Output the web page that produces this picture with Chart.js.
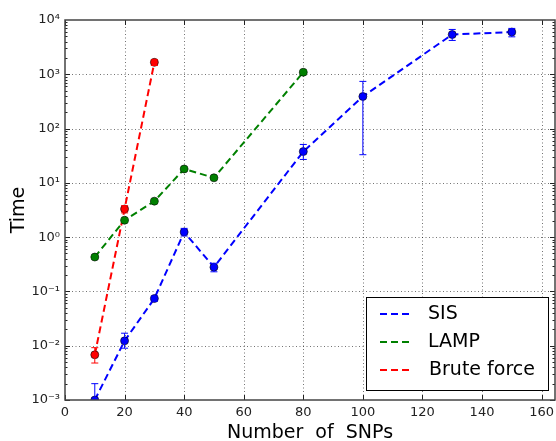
<!DOCTYPE html>
<html>
<head>
<meta charset="utf-8">
<script src="https://cdn.jsdelivr.net/npm/chart.js@4"></script>
<style>
html,body{margin:0;padding:0;background:#fff;}
#wrap{width:556px;height:441px;position:relative;}
</style>
</head>
<body>
<div id="wrap"><canvas id="c" width="556" height="441"></canvas></div>
<script>
// ---- data ----
const seriesNames = ['SIS', 'LAMP', 'Brute force'];
const seriesColors = ['#0000ff', '#008000', '#ff0000'];
const sisX = [10, 20, 30, 40, 50, 80, 100, 130, 150];
const sisY = [0.001, 0.0123, 0.074, 1.24, 0.28, 37.7, 390, 5400, 6000];
const sisLow = [0.0007, 0.009, 0.066, 1.05, 0.23, 27, 33, 4200, 4900];
const sisHigh = [0.002, 0.017, 0.082, 1.45, 0.33, 51, 740, 6700, 7000];
const lampX = [10, 20, 30, 40, 50, 80];
const lampY = [0.43, 2.05, 4.6, 18, 12.4, 1090];
const lampLow = [0.40, 1.9, 4.3, 17, 11.6, 1000];
const lampHigh = [0.46, 2.2, 4.9, 19, 13.2, 1180];
const bruteX = [10, 20, 30];
const bruteY = [0.0068, 3.3, 1660];
const bruteLow = [0.0048, 2.8, 1450];
const bruteHigh = [0.0092, 3.8, 1850];
const xTicks = [0, 20, 40, 60, 80, 100, 120, 140, 160];
const yMajorTicks = [1e-3, 1e-2, 1e-1, 1e0, 1e1, 1e2, 1e3, 1e4];
const yTickLabels = ['10⁻³', '10⁻²', '10⁻¹', '10⁰', '10¹', '10²', '10³', '10⁴'];
const xTitle = 'Number  of  SNPs';
const yTitle = 'Time';

function pts(xs, ys) { return xs.map((x, i) => ({x: x, y: ys[i]})); }
const errLow = [sisLow, lampLow, bruteLow];
const errHigh = [sisHigh, lampHigh, bruteHigh];

const FONT = '"DejaVu Sans", sans-serif';

function mkDataset(i, xs, ys) {
  const col = seriesColors[i];
  return {
    label: seriesNames[i],
    data: pts(xs, ys),
    borderColor: col,
    backgroundColor: col,
    borderWidth: 2,
    borderDash: [7, 4],
    pointRadius: 4,
    pointBorderWidth: 0.6,
    pointBorderColor: '#000',
    pointBackgroundColor: col,
    tension: 0,
    fill: false
  };
}

const frameAndGrid = {
  id: 'frameAndGrid',
  beforeDatasetsDraw(chart) {
    const ctx = chart.ctx, a = chart.chartArea;
    const xs = chart.scales.x, ys = chart.scales.y;
    ctx.save();
    ctx.strokeStyle = 'rgba(0,0,0,0.55)';
    ctx.lineWidth = 1;
    ctx.setLineDash([1, 2.5]);
    xTicks.forEach(v => {
      const px = Math.round(xs.getPixelForValue(v)) + 0.5;
      if (px <= a.left + 1 || px >= a.right - 1) return;
      ctx.beginPath(); ctx.moveTo(px, a.top); ctx.lineTo(px, a.bottom); ctx.stroke();
    });
    yMajorTicks.forEach(v => {
      const py = Math.round(ys.getPixelForValue(v)) + 0.5;
      if (py <= a.top + 1 || py >= a.bottom - 1) return;
      ctx.beginPath(); ctx.moveTo(a.left, py); ctx.lineTo(a.right, py); ctx.stroke();
    });
    ctx.restore();
  },
  afterDatasetsDraw(chart) {
    const ctx = chart.ctx, a = chart.chartArea;
    const xs = chart.scales.x, ys = chart.scales.y;
    ctx.save();
    // error bars
    ctx.beginPath(); ctx.rect(a.left, a.top, a.right - a.left, a.bottom - a.top); ctx.clip();
    chart.data.datasets.forEach((ds, i) => {
      ctx.strokeStyle = seriesColors[i];
      ctx.lineWidth = 1;
      ctx.setLineDash([]);
      ds.data.forEach((p, j) => {
        const px = xs.getPixelForValue(p.x);
        const y1 = ys.getPixelForValue(errLow[i][j]);
        const y2 = ys.getPixelForValue(errHigh[i][j]);
        ctx.beginPath();
        ctx.moveTo(px, y1); ctx.lineTo(px, y2);
        ctx.moveTo(px - 3.5, y1); ctx.lineTo(px + 3.5, y1);
        ctx.moveTo(px - 3.5, y2); ctx.lineTo(px + 3.5, y2);
        ctx.stroke();
      });
    });
    ctx.restore();
    ctx.save();
    // inward tick marks
    ctx.strokeStyle = '#222';
    ctx.lineWidth = 1;
    ctx.setLineDash([]);
    xTicks.forEach(v => {
      const px = Math.round(xs.getPixelForValue(v)) + 0.5;
      ctx.beginPath();
      ctx.moveTo(px, a.bottom); ctx.lineTo(px, a.bottom - 5);
      ctx.moveTo(px, a.top); ctx.lineTo(px, a.top + 5);
      ctx.stroke();
    });
    for (let e = -3; e < 4; e++) {
      for (let m = 1; m <= 9; m++) {
        const v = m * Math.pow(10, e);
        const py = Math.round(ys.getPixelForValue(v)) + 0.5;
        const len = m === 1 ? 5 : 2.5;
        ctx.beginPath();
        ctx.moveTo(a.left, py); ctx.lineTo(a.left + len, py);
        ctx.moveTo(a.right, py); ctx.lineTo(a.right - len, py);
        ctx.stroke();
      }
    }
    // frame
    ctx.strokeStyle = '#444';
    ctx.lineWidth = 1.5;
    ctx.strokeRect(a.left, a.top, a.right - a.left, a.bottom - a.top);
    // legend
    const lx = 366, ly = 297, lw = 182, lh = 93;
    ctx.fillStyle = '#fff';
    ctx.fillRect(lx, ly, lw, lh);
    ctx.strokeStyle = '#000';
    ctx.lineWidth = 1;
    ctx.strokeRect(lx + 0.5, ly + 0.5, lw, lh);
    ctx.font = '19px ' + FONT;
    ctx.textBaseline = 'middle';
    ctx.textAlign = 'left';
    chart.data.datasets.forEach((ds, i) => {
      const yy = 314 + i * 28;
      ctx.strokeStyle = seriesColors[i];
      ctx.lineWidth = 2;
      ctx.setLineDash([7, 4]);
      ctx.beginPath(); ctx.moveTo(380, yy); ctx.lineTo(410, yy); ctx.stroke();
      ctx.setLineDash([]);
      ctx.fillStyle = '#000';
      ctx.fillText(ds.label, i === 2 ? 429 : 428, yy);
    });
    ctx.restore();
  }
};

const chart = new Chart(document.getElementById('c'), {
  type: 'line',
  data: {
    datasets: [
      mkDataset(0, sisX, sisY),
      mkDataset(1, lampX, lampY),
      mkDataset(2, bruteX, bruteY)
    ]
  },
  options: {
    responsive: false,
    animation: false,
    devicePixelRatio: 1,
    layout: {autoPadding: false, padding: {top: 20, right: 1, left: 0, bottom: 0}},
    plugins: {legend: {display: false}, tooltip: {enabled: false}},
    scales: {
      x: {
        type: 'linear', min: 0, max: 164.5,
        afterBuildTicks(s) { s.ticks = xTicks.map(v => ({value: v})); },
        afterFit(s) { s.height = 41; s.paddingLeft = 0; s.paddingRight = 0; },
        grid: {display: false, drawTicks: false},
        border: {display: false},
        ticks: {padding: 5, autoSkip: false, maxRotation: 0, color: '#222', font: {family: FONT, size: 13}},
        title: {display: true, text: xTitle, color: '#000', font: {family: FONT, size: 19, lineHeight: 1}, padding: {top: 0, bottom: -2}}
      },
      y: {
        type: 'logarithmic', min: 1e-3, max: 1e4,
        afterBuildTicks(s) { s.ticks = yMajorTicks.map(v => ({value: v})); },
        afterFit(s) { s.width = 65; s.paddingTop = 0; s.paddingBottom = 0; },
        grid: {display: false, drawTicks: false},
        border: {display: false},
        ticks: {
          padding: 5, autoSkip: false, color: '#222', font: {family: FONT, size: 13},
          callback(v) { const k = yMajorTicks.findIndex(t => Math.abs(Math.log10(t) - Math.log10(v)) < 1e-6); return k >= 0 ? yTickLabels[k] : ''; }
        },
        title: {display: true, text: yTitle, color: '#000', font: {family: FONT, size: 19}, padding: {top: 8, bottom: 0}}
      }
    }
  },
  plugins: [frameAndGrid]
});
</script>
</body>
</html>
